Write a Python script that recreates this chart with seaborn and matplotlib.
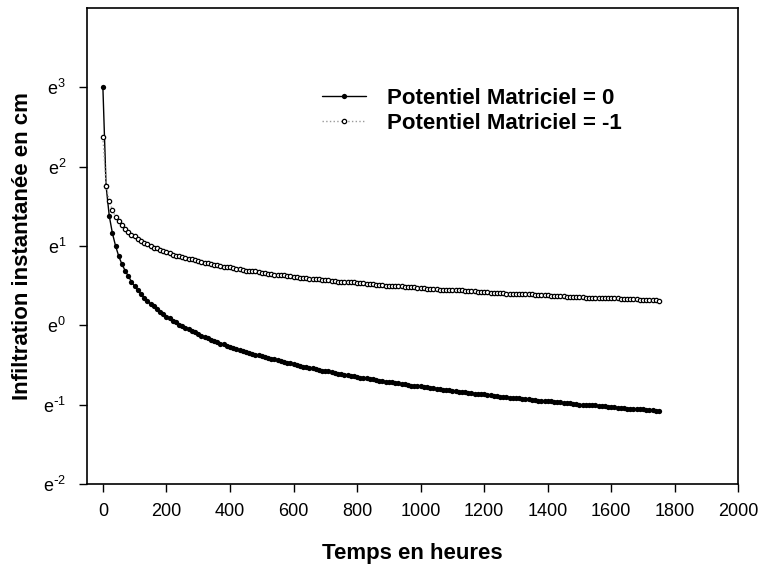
import numpy as np
import matplotlib
matplotlib.use('Agg')
import matplotlib.pyplot as plt
from matplotlib.ticker import FixedLocator, FuncFormatter, NullLocator
import seaborn as sns

# time in hours, one point every 10 h
temps = list(range(0, 1760, 10))

# exponents of the instantaneous infiltration (read on the e-based axis)
ln_infil_psi0 = [
    3.00, 1.76, 1.38, 1.16, 1.00, 0.87, 0.77, 0.69, 0.62, 0.55, 0.49,
    0.44, 0.39, 0.35, 0.31, 0.27, 0.24, 0.20, 0.17, 0.14, 0.11,
    0.09, 0.06, 0.04, 0.01, -0.01, -0.03, -0.05, -0.07, -0.09, -0.11,
    -0.13, -0.15, -0.16, -0.18, -0.20, -0.21, -0.23, -0.24, -0.26, -0.27,
    -0.28, -0.30, -0.31, -0.32, -0.33, -0.35, -0.36, -0.37, -0.38, -0.39,
    -0.40, -0.41, -0.42, -0.43, -0.44, -0.45, -0.46, -0.47, -0.48, -0.49,
    -0.50, -0.51, -0.52, -0.53, -0.54, -0.54, -0.55, -0.56, -0.57, -0.58,
    -0.58, -0.59, -0.60, -0.61, -0.61, -0.62, -0.63, -0.64, -0.64, -0.65,
    -0.66, -0.66, -0.67, -0.68, -0.68, -0.69, -0.70, -0.70, -0.71, -0.71,
    -0.72, -0.73, -0.73, -0.74, -0.74, -0.75, -0.76, -0.76, -0.77, -0.77,
    -0.78, -0.78, -0.79, -0.79, -0.80, -0.80, -0.81, -0.82, -0.82, -0.83,
    -0.83, -0.84, -0.84, -0.84, -0.85, -0.85, -0.86, -0.86, -0.87, -0.87,
    -0.88, -0.88, -0.89, -0.89, -0.90, -0.90, -0.90, -0.91, -0.91, -0.92,
    -0.92, -0.93, -0.93, -0.93, -0.94, -0.94, -0.95, -0.95, -0.95, -0.96,
    -0.96, -0.97, -0.97, -0.97, -0.98, -0.98, -0.98, -0.99, -0.99, -1.00,
    -1.00, -1.00, -1.01, -1.01, -1.01, -1.02, -1.02, -1.02, -1.03, -1.03,
    -1.03, -1.04, -1.04, -1.04, -1.05, -1.05, -1.05, -1.06, -1.06, -1.06,
    -1.07, -1.07, -1.07, -1.08, -1.08,
]
ln_infil_psi1 = [
    2.37, 1.76, 1.57, 1.45, 1.37, 1.31, 1.26, 1.22, 1.18, 1.14, 1.12,
    1.09, 1.06, 1.04, 1.02, 1.00, 0.98, 0.97, 0.95, 0.94, 0.92,
    0.91, 0.89, 0.88, 0.87, 0.86, 0.85, 0.84, 0.83, 0.82, 0.81,
    0.80, 0.79, 0.78, 0.77, 0.76, 0.76, 0.75, 0.74, 0.73, 0.73,
    0.72, 0.71, 0.71, 0.70, 0.69, 0.69, 0.68, 0.68, 0.67, 0.66,
    0.66, 0.65, 0.65, 0.64, 0.64, 0.63, 0.63, 0.62, 0.62, 0.61,
    0.61, 0.60, 0.60, 0.60, 0.59, 0.59, 0.58, 0.58, 0.57, 0.57,
    0.57, 0.56, 0.56, 0.55, 0.55, 0.55, 0.54, 0.54, 0.54, 0.53,
    0.53, 0.53, 0.52, 0.52, 0.52, 0.51, 0.51, 0.51, 0.50, 0.50,
    0.50, 0.49, 0.49, 0.49, 0.48, 0.48, 0.48, 0.48, 0.47, 0.47,
    0.47, 0.46, 0.46, 0.46, 0.46, 0.45, 0.45, 0.45, 0.45, 0.44,
    0.44, 0.44, 0.44, 0.43, 0.43, 0.43, 0.43, 0.42, 0.42, 0.42,
    0.42, 0.41, 0.41, 0.41, 0.41, 0.41, 0.40, 0.40, 0.40, 0.40,
    0.39, 0.39, 0.39, 0.39, 0.39, 0.38, 0.38, 0.38, 0.38, 0.38,
    0.37, 0.37, 0.37, 0.37, 0.37, 0.36, 0.36, 0.36, 0.36, 0.36,
    0.36, 0.35, 0.35, 0.35, 0.35, 0.35, 0.34, 0.34, 0.34, 0.34,
    0.34, 0.34, 0.33, 0.33, 0.33, 0.33, 0.33, 0.33, 0.32, 0.32,
    0.32, 0.32, 0.32, 0.32, 0.31,
]

label_psi0 = 'Potentiel Matriciel = 0'
label_psi1 = 'Potentiel Matriciel = -1'
xticks = list(range(0, 2001, 200))
yexp = [-2, -1, 0, 1, 2, 3]

sns.set_style('ticks')
plt.rcParams['font.family'] = ['Liberation Sans', 'DejaVu Sans']
plt.rcParams['mathtext.default'] = 'regular'
plt.rcParams['axes.unicode_minus'] = False
plt.rcParams['text.color'] = 'black'
plt.rcParams['axes.labelcolor'] = 'black'


def e_label(v, pos):
    n = int(round(np.log(v)))
    # keep a plain hyphen in the exponent, like the original
    exp = r'\text{-}%d' % abs(n) if n < 0 else '%d' % n
    return '$e^{%s}$' % exp


fig = plt.figure(figsize=(7.72, 5.65), dpi=100)
ax = fig.add_axes([0.1127, 0.1434, 0.8437, 0.8424])

sns.lineplot(x=temps, y=np.exp(ln_infil_psi0), ax=ax, color='black',
             linewidth=1.0, marker='o', markersize=3.8, markeredgewidth=0,
             label=label_psi0)
sns.lineplot(x=temps, y=np.exp(ln_infil_psi1), ax=ax, color='#9a9a9a',
             linewidth=1.0, linestyle=':', marker='o', markersize=3.1,
             markerfacecolor='white', markeredgecolor='black',
             markeredgewidth=0.9, label=label_psi1)

ax.set_yscale('log', base=np.e)
ax.set_ylim(np.exp(-2), np.exp(4))
ax.set_xlim(-50, 2000)
ax.yaxis.set_major_locator(FixedLocator(np.exp(yexp)))
ax.yaxis.set_minor_locator(NullLocator())
ax.yaxis.set_major_formatter(FuncFormatter(e_label))
ax.set_xticks(xticks)

for s in ax.spines.values():
    s.set_linewidth(1.2)
    s.set_color('black')
ax.tick_params(direction='out', length=6, width=1.0, colors='black',
               labelsize=13, pad=8)
ax.tick_params(axis='y', pad=9)

ax.set_xlabel('Temps en heures', fontsize=16, fontweight='bold', labelpad=16)
ax.set_ylabel('Infiltration instantanée en cm', fontsize=16,
              fontweight='bold', labelpad=7)

ax.legend(frameon=False, loc='upper left', bbox_to_anchor=(0.3615, 0.832),
          borderaxespad=0, borderpad=0,
          prop={'weight': 'bold', 'size': 16}, handlelength=1.95,
          handletextpad=0.95, labelspacing=0.19)

fig.savefig('out.png', dpi=100)
